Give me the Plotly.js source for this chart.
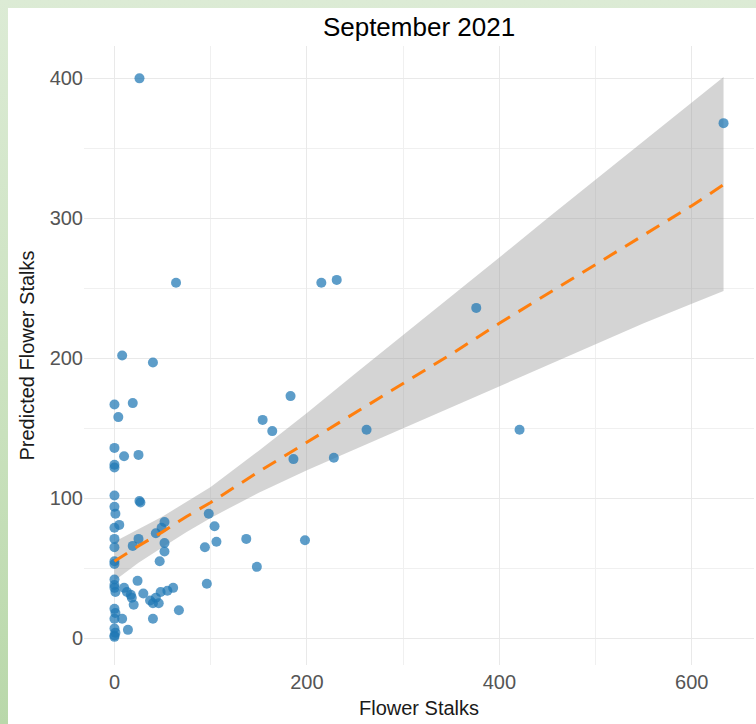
<!DOCTYPE html>
<html>
<head>
<meta charset="utf-8">
<script src="https://cdn.plot.ly/plotly-3.0.1.min.js"></script>
<style>
  html, body { margin: 0; padding: 0; width: 756px; height: 724px; overflow: hidden; }
  body { background: linear-gradient(to bottom, #dcebd5 0%, #c9e1bd 60%, #b9d8aa 100%); position: relative; }
  #chart { position: absolute; left: 8px; top: 8px; width: 748px; height: 716px; background: #ffffff; }
</style>
</head>
<body>
<div id="chart"></div>
<script>
// Observed points: Flower Stalks (x) vs Predicted Flower Stalks (y)
const flowerStalks = [
  0, 0, 0, 0, 0, 0, 1, 0, 0, 0, 0, 0, 0, 0, 0, 1, 0, 1, 0, 0, 1, 0, 0,
  4, 5, 8, 10, 19, 25, 26, 27, 25, 19, 10, 13, 17, 18, 20, 8, 14, 24,
  26, 40, 64, 43, 49, 52, 52, 52, 47, 30, 37, 40, 43, 46, 48, 55, 61, 67, 40,
  98, 104, 106, 94, 137, 198, 148, 96, 154, 164, 183, 186, 215, 231, 228, 262, 376, 421, 633
];
const predictedStalks = [
  167, 136, 124, 122, 102, 94, 89, 79, 71, 65, 55, 53, 42, 38, 36, 33, 21, 18, 14, 7, 4, 2, 1,
  158, 81, 202, 130, 168, 131, 98, 97, 71, 66, 36, 33, 31, 29, 24, 14, 6, 41,
  400, 197, 254, 75, 79, 83, 68, 62, 55, 32, 27, 25, 29, 25, 33, 34, 36, 20, 14,
  89, 80, 69, 65, 71, 70, 51, 39, 156, 148, 173, 128, 254, 256, 129, 149, 236, 149, 368
];

// Linear fit and its confidence band
const fitX     = [0, 25, 50, 75, 100, 150, 200, 250, 300, 350, 400, 450, 500, 550, 600, 633];
const fitY     = [55, 66, 76, 87, 97, 119, 140, 161, 182, 203, 225, 246, 267, 288, 309, 324];
const fitLower = [41, 54, 65, 76, 86, 104, 120, 135, 150, 165, 180, 195, 210, 225, 239, 248];
const fitUpper = [69, 78, 87, 97.5, 108, 134, 161, 189, 216.5, 244, 272, 300, 327.5, 355, 383, 401];

const xTicks = [0, 200, 400, 600];
const yTicks = [0, 100, 200, 300, 400];

const font = "'Liberation Sans', Arial, Helvetica, sans-serif";

const traces = [
  {
    x: fitX, y: fitLower, type: 'scatter', mode: 'lines', line: { width: 0, color: 'rgba(0,0,0,0)' },
    hoverinfo: 'skip', showlegend: false
  },
  {
    x: fitX, y: fitUpper, type: 'scatter', mode: 'lines', fill: 'tonexty',
    fillcolor: 'rgba(153,153,153,0.42)',
    line: { width: 0, color: 'rgba(0,0,0,0)' }, hoverinfo: 'skip', showlegend: false
  },
  {
    x: flowerStalks, y: predictedStalks, type: 'scatter', mode: 'markers',
    marker: { size: 10, color: 'rgba(31,119,180,0.72)', line: { width: 0 } },
    showlegend: false
  },
  {
    x: fitX, y: fitY, type: 'scatter', mode: 'lines',
    line: { color: '#ff7f0e', width: 3, dash: '15px,10px' },
    showlegend: false
  }
];

const layout = {
  width: 748, height: 716,
  margin: { l: 76, r: 2, t: 38, b: 59 },
  paper_bgcolor: '#ffffff', plot_bgcolor: '#ffffff',
  font: { family: font, color: '#4d4d4d' },
  title: {
    text: 'September 2021', x: 0.5, xref: 'paper', xanchor: 'center',
    y: 20, yref: 'container', yanchor: 'middle',
    font: { family: font, size: 26, color: '#000000' }
  },
  xaxis: {
    range: [-31.65, 664.65], tickmode: 'array', tickvals: xTicks, ticktext: xTicks.map(String),
    showgrid: true, gridcolor: '#e9e9e9', gridwidth: 1, zeroline: false, showline: false, ticks: '',
    tickfont: { family: font, size: 20, color: '#555555' }, ticklabelstandoff: 3,
    minor: { dtick: 100, tick0: 0, showgrid: true, gridcolor: '#f0f0f0', gridwidth: 1, ticks: '' },
    title: { text: 'Flower Stalks', font: { family: font, size: 20, color: '#1a1a1a' }, standoff: 8 }
  },
  yaxis: {
    range: [-19.1, 423.1], tickmode: 'array', tickvals: yTicks, ticktext: yTicks.map(String),
    showgrid: true, gridcolor: '#e9e9e9', gridwidth: 1, zeroline: false, showline: false, ticks: '',
    tickfont: { family: font, size: 20, color: '#555555' },
    minor: { dtick: 50, tick0: 0, showgrid: true, gridcolor: '#f0f0f0', gridwidth: 1, ticks: '' },
    title: { text: 'Predicted Flower Stalks', font: { family: font, size: 20, color: '#1a1a1a' }, standoff: 9 }
  }
};

Plotly.newPlot('chart', traces, layout, { staticPlot: true, displayModeBar: false });
</script>
</body>
</html>
